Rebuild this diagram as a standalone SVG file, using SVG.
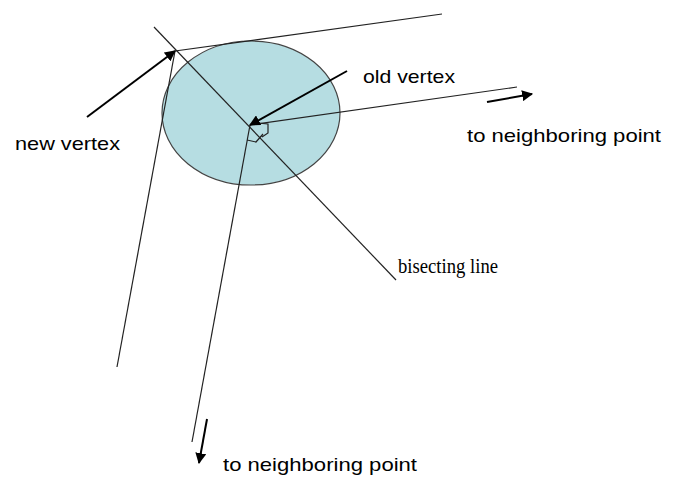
<svg xmlns="http://www.w3.org/2000/svg" width="675" height="479" viewBox="0 0 675 479">
<defs>
<style>
.thin{stroke:#222;stroke-width:1.2;fill:none}
.arr{stroke:#000;stroke-width:2;fill:none}
.sans{font-family:"Liberation Sans",Arial,sans-serif;font-size:19px;fill:#000}
.serif{font-family:"Liberation Serif","Times New Roman",serif;font-size:20px;fill:#000}
</style>
<marker id="ah" viewBox="0 0 10 10" refX="9" refY="5" markerWidth="5.5" markerHeight="5.5" orient="auto" markerUnits="strokeWidth">
<path d="M0,0 L10,5 L0,10 z" fill="#000"/>
</marker>
</defs>
<rect width="675" height="479" fill="#fff"/>
<g id="circle">
<ellipse cx="251" cy="113" rx="89" ry="72" fill="#b6dde2" stroke="#444" stroke-width="1.2"/>
</g>
<g id="connectors">
<line class="thin" x1="154" y1="27" x2="396" y2="280"/>
<line class="thin" x1="175" y1="51" x2="442" y2="14"/>
<line class="thin" x1="175" y1="51" x2="117" y2="367"/>
<line class="thin" x1="250" y1="125" x2="517" y2="87"/>
<line class="thin" x1="250" y1="125" x2="192" y2="442"/>
<path class="thin" d="M257 123 L268 124 L268 133 L262 137 M247 140 L256 142 L263 134" stroke-width="1.5"/>
<line class="arr" x1="87" y1="117" x2="175" y2="51" marker-end="url(#ah)"/>
<line class="arr" x1="347" y1="71" x2="250" y2="125" marker-end="url(#ah)"/>
<line class="arr" x1="487" y1="102" x2="532" y2="94" marker-end="url(#ah)"/>
<line class="arr" x1="207" y1="419" x2="199" y2="463" marker-end="url(#ah)"/>
</g>
<g id="label-old-vertex"><text class="sans" x="363" y="83" textLength="92" lengthAdjust="spacingAndGlyphs">old vertex</text></g>
<g id="label-new-vertex"><text class="sans" x="15" y="150" textLength="105" lengthAdjust="spacingAndGlyphs">new vertex</text></g>
<g id="label-neighbor-right"><text class="sans" x="467" y="142" textLength="194" lengthAdjust="spacingAndGlyphs">to neighboring point</text></g>
<g id="label-neighbor-bottom"><text class="sans" x="223" y="471" textLength="194" lengthAdjust="spacingAndGlyphs">to neighboring point</text></g>
<g id="label-bisecting"><text class="serif" x="398" y="273" textLength="100" lengthAdjust="spacingAndGlyphs">bisecting line</text></g>
</svg>
